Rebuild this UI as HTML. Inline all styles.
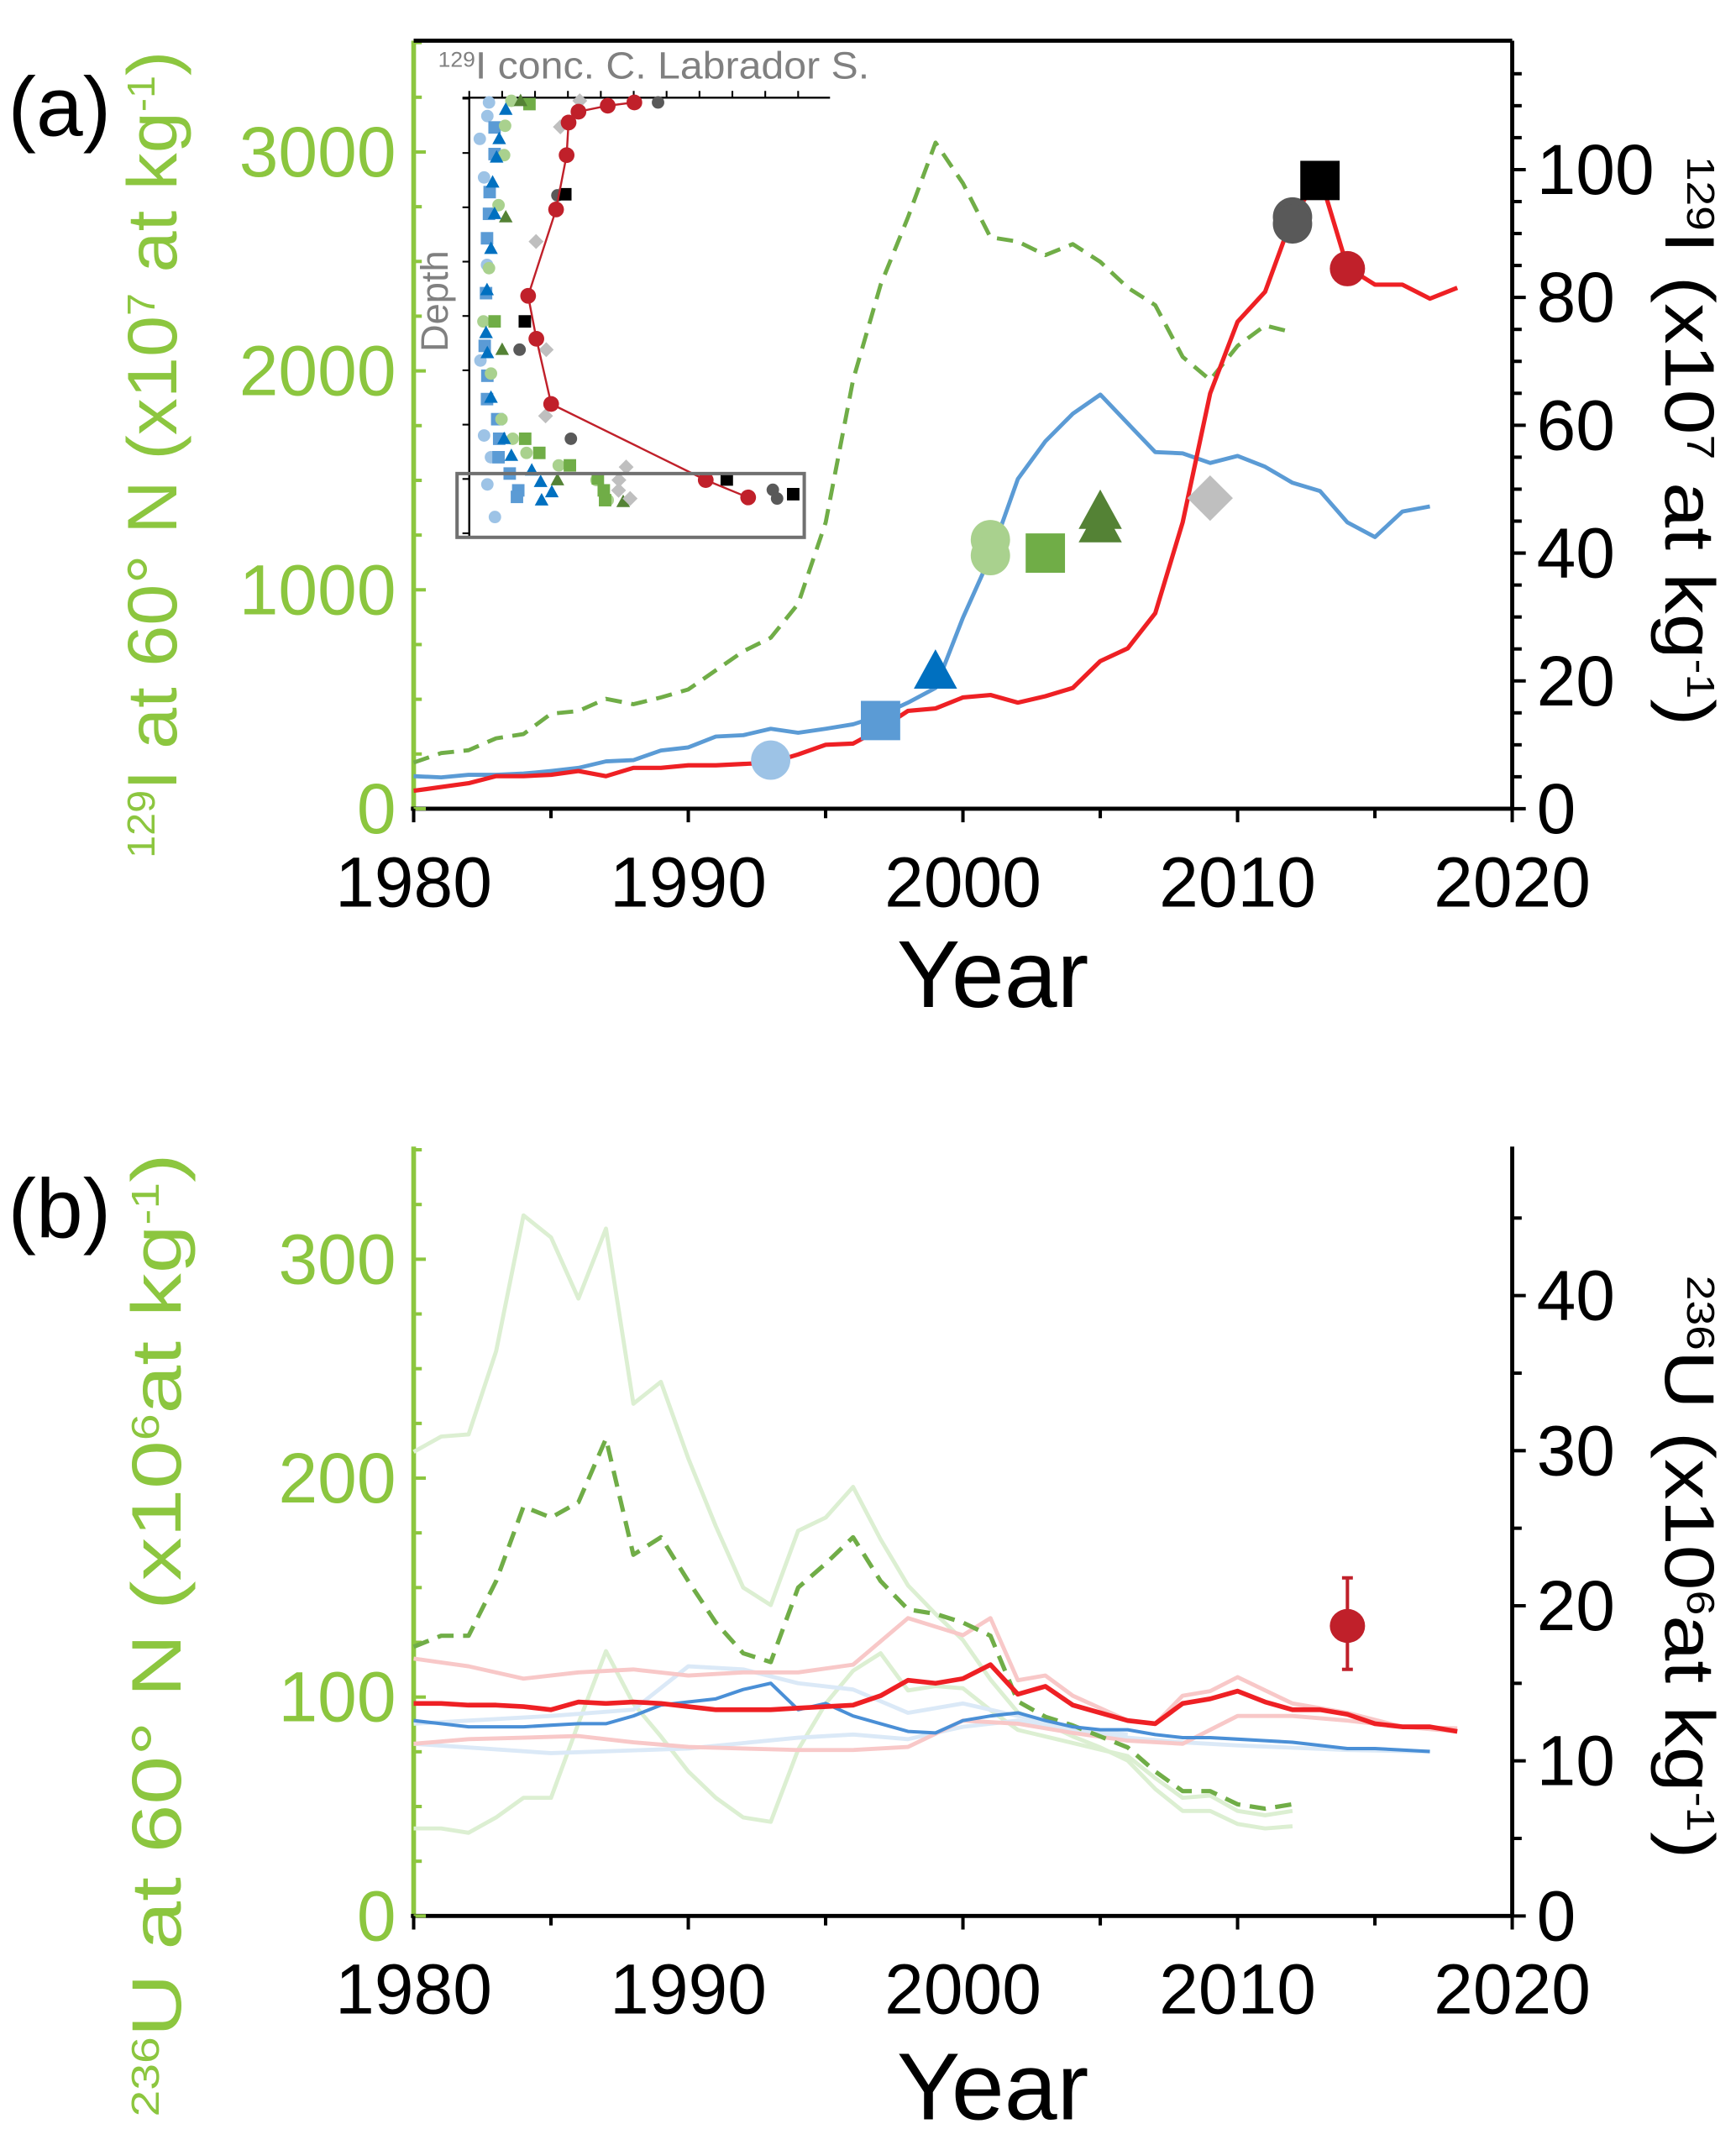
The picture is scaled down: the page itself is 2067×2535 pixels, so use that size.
<!DOCTYPE html>
<html><head><meta charset="utf-8"><style>html,body{margin:0;padding:0;background:#fff}svg{display:block}text{font-family:"Liberation Sans",Arial,sans-serif}</style></head>
<body>
<svg id="chart" xmlns="http://www.w3.org/2000/svg" width="2067" height="2535" viewBox="0 0 1280 1569" preserveAspectRatio="none">
<g id="g"></g>
</svg>
<script>
// ---------- Panel (a) data ----------
const yearsA = [1980,1981,1982,1983,1984,1985,1986,1987,1988,1989,1990,1991,1992,1993,1994,1995,1996,1997,1998,1999,2000,2001,2002,2003,2004,2005,2006,2007,2008,2009,2010,2011,2012,2013,2014,2015,2016,2017,2018];
const greenDashA = [211,254,267,322,341,434,446,502,477,508,545,632,719,781,936,1308,1959,2393,2702,3043,2857,2610,2591,2529,2579,2498,2380,2300,2064,1959,2114,2207,2176];
const blueA = [5.1,4.9,5.3,5.3,5.5,5.9,6.4,7.4,7.6,9.1,9.6,11.3,11.5,12.5,11.9,12.5,13.2,14.6,16.6,18.9,29.9,39.5,51.6,57.5,61.8,64.8,60.3,55.8,55.6,54.1,55.2,53.5,51.0,49.7,44.8,42.5,46.5,47.3];
const redA = [2.8,3.4,4.0,5.1,5.1,5.3,5.9,5.1,6.4,6.4,6.8,6.8,7.0,7.2,8.5,10.0,10.2,12.5,15.3,15.7,17.4,17.8,16.6,17.6,18.9,23.1,25.1,30.6,44.8,65.0,76.2,80.9,92.6,98.9,84.7,82.0,82.0,79.8,81.5];
const markerYearsA = [1993,1997,1999,2001,2001,2003,2005,2005,2009,2012,2012,2013,2014];
const markerValsA = [7.6,13.8,21.4,42.1,39.6,40.0,46.4,44.3,48.6,92.6,91.5,98.3,84.5];
const markerKindsA = ['lbc','bsq','btri','lgc','lgc','gsq','dgt','dgt','dia','dgc','dgc','bk','red'];
const leftTicksA = [0,1000,2000,3000];
const rightTicksA = [0,20,40,60,80,100];
const xTicks = [1980,1990,2000,2010,2020];
// inset data (concentration units 0-10, depth units 0-8)
const insetRedConc = [5.02,4.21,3.32,3.02,2.96,2.64,1.79,2.04,2.49,7.19,8.48];
const insetRedDepth = [0.07,0.13,0.24,0.44,1.04,2.04,3.63,4.42,5.62,7.02,7.34];
const insetLbcConc = [0.60,0.55,0.32,0.45,0.54,0.34,0.45,0.66,0.55,0.78];
const insetLbcDepth = [0.07,0.32,0.74,1.45,3.06,4.82,6.20,6.60,7.10,7.70];
const insetBsqConc = [0.77,0.77,0.62,0.60,0.54,0.51,0.47,0.55,0.54,0.85,0.91,0.89,1.23,1.49,1.45];
const insetBsqDepth = [0.53,1.02,1.72,2.12,2.57,3.58,4.55,5.10,5.53,5.90,6.26,6.60,6.90,7.21,7.33];
const insetBtriConc = [1.11,0.91,0.83,0.71,0.77,0.66,0.54,0.51,0.55,0.66,1.06,1.28,1.90,2.17,2.51,2.20];
const insetBtriDepth = [0.20,0.74,1.08,1.54,2.12,2.76,3.52,4.31,4.68,5.50,6.26,6.57,6.84,7.05,7.24,7.39];
const insetLgcConc = [1.28,1.09,1.06,0.89,0.60,0.43,0.66,0.98,1.32,1.74,2.72,3.87,4.21];
const insetLgcDepth = [0.04,0.50,1.04,1.96,3.12,4.10,5.06,5.90,6.26,6.52,6.75,7.02,7.39];
const insetGsqConc = [1.83,0.77,1.70,2.13,3.06,3.91,4.09,4.13];
const insetGsqDepth = [0.10,4.10,6.26,6.52,6.75,6.99,7.21,7.39];
const insetDgtConc = [1.56,1.11,1.00,2.68,4.68];
const insetDgtDepth = [0.04,2.18,4.62,7.02,7.42];
const insetDiaConc = [3.36,2.77,2.03,2.34,2.32,4.77,4.55,4.54,4.89];
const insetDiaDepth = [0.04,0.52,2.63,4.62,5.84,6.78,7.02,7.21,7.36];
const insetDgcConc = [5.74,2.68,1.53,3.09,9.23,9.36];
const insetDgcDepth = [0.07,1.78,4.62,6.26,7.20,7.36];
const insetBkConc = [2.92,1.69,7.83,9.85];
const insetBkDepth = [1.76,4.10,7.01,7.28];

// ---------- Panel (b) data ----------
const yearsB = [1980,1981,1982,1983,1984,1985,1986,1987,1988,1989,1990,1991,1992,1993,1994,1995,1996,1997,1998,1999,2000,2001,2002,2003,2004,2005,2006,2007,2008,2009,2010,2011,2012,2013,2014,2015,2016,2017,2018];
const paleGreenHigh = [212,219,220,258,320,310,282,314,234,244,209,178,150,142,176,182,196,172,151,138,126,108,93,88,82,77,71,58,48,48,42,40,41];
const paleGreenLow = [40,40,38,45,54,54,88,121,97,82,66,54,45,43,76,97,112,120,103,105,104,94,85,82,79,76,73,63,54,55,48,46,48];
const greenDashB = [123,128,128,153,187,182,189,218,165,173,153,134,120,116,150,161,173,153,140,138,134,128,98,91,87,82,77,66,57,57,51,49,51];
const redB = [13.7,13.7,13.6,13.6,13.5,13.3,13.8,13.7,13.8,13.7,13.5,13.3,13.3,13.3,13.4,13.5,13.6,14.2,15.2,15.0,15.3,16.2,14.3,14.8,13.6,13.1,12.6,12.4,13.7,14.0,14.5,13.8,13.3,13.3,13.0,12.4,12.2,12.2,11.9];
const blueB = [12.6,12.4,12.2,12.2,12.2,12.3,12.4,12.4,12.9,13.6,13.8,14.0,14.6,15.0,13.3,13.7,12.9,12.4,11.9,11.8,12.6,12.9,13.1,12.6,12.2,12.0,12.0,11.7,11.5,11.5,11.4,11.3,11.2,11.0,10.8,10.8,10.7,10.6];
const pinkUpYears = [1980,1982,1984,1986,1988,1990,1992,1994,1996,1998,2000,2001,2002,2003,2004,2006,2007,2008,2009,2010,2012,2014,2016,2018];
const pinkUp = [16.6,16.1,15.3,15.7,15.9,15.5,15.7,15.7,16.2,19.2,18.1,19.2,15.2,15.5,14.2,12.6,12.4,14.2,14.5,15.4,13.7,13.1,12.2,12.1];
const pinkLowYears = [1980,1982,1984,1986,1988,1990,1992,1994,1996,1998,2000,2002,2004,2006,2008,2010,2012,2014,2016,2018];
const pinkLow = [11.1,11.4,11.5,11.6,11.2,10.9,10.8,10.7,10.7,10.9,12.6,12.4,11.8,11.3,11.1,12.9,12.9,12.6,12.2,11.9];
const paleBlueUpYears = [1980,1985,1988,1990,1992,1994,1996,1998,2000,2002,2004,2006];
const paleBlueUp = [12.4,12.9,13.3,16.1,15.9,15.0,14.6,13.1,13.7,12.9,12.1,11.7];
const paleBlueLowYears = [1980,1985,1990,1994,1996,1998,2000,2002,2004,2006,2008,2010,2014,2017];
const paleBlueLow = [11.1,10.5,10.8,11.5,11.7,11.4,12.2,12.6,12.0,11.5,11.2,11.0,10.7,10.6];
const redPointB = [2014, 18.7, 21.8, 15.9];
const leftTicksB = [0,100,200,300];
const rightTicksB = [0,10,20,30,40];

// ---------- scales ----------
const X0=305, X1=1115;
const xS = yr => X0 + (yr-1980)*(X1-X0)/40;
const yLa = v => 596 - v*0.16133;
const yRa = v => 596 - v*4.71;
const yLb = v => 1412 - v*1.6133;
const yRb = v => 1412 - v*11.43;
const inX = c => 346 + c*24.25;
const inY = d => 72.7 + d*40.04;

const NS='http://www.w3.org/2000/svg';
const G=document.getElementById('g');
function mk(tag, attrs, parent){const e=document.createElementNS(NS,tag);for(const k in attrs)e.setAttribute(k,attrs[k]);(parent||G).appendChild(e);return e;}
function line(xs, ys, fx, fy, stroke, w, dash, name){
  const d = ys.map((v,i)=>(i?'L':'M')+fx(xs[i]).toFixed(1)+' '+fy(v).toFixed(1)).join(' ');
  const p = mk('path',{d:d,fill:'none',stroke:stroke,'stroke-width':w,'stroke-linejoin':'round'});
  if(dash) p.setAttribute('stroke-dasharray',dash);
  
  
  return p;
}
const COL={lbc:'#9dc3e6',bsq:'#5b9bd5',btri:'#0070c0',lgc:'#a9d18e',gsq:'#70ad47',dgt:'#548235',dia:'#bfbfbf',dgc:'#595959',bk:'#000000',red:'#c0202a'};
function marker(kind, cx, cy, s, name){
  let e; const c=COL[kind];
  if(kind==='lbc'||kind==='lgc'||kind==='dgc'||kind==='red') e=mk('circle',{cx:cx,cy:cy,r:s,fill:c});
  else if(kind==='bsq'||kind==='gsq'||kind==='bk') e=mk('rect',{x:cx-s,y:cy-s,width:2*s,height:2*s,fill:c});
  else if(kind==='btri'||kind==='dgt') e=mk('polygon',{points:`${cx},${cy-s*1.15} ${cx+s*1.1},${cy+s*0.85} ${cx-s*1.1},${cy+s*0.85}`,fill:c});
  else e=mk('polygon',{points:`${cx},${cy-s*1.2} ${cx+s*1.2},${cy} ${cx},${cy+s*1.2} ${cx-s*1.2},${cy}`,fill:c});
  
  
  return e;
}
function txt(x,y,s,size,fill,anchor,name,extra){
  const t=mk('text',Object.assign({x:x,y:y,'font-size':size,fill:fill,'text-anchor':anchor||'start'},extra||{}));
  t.textContent=s;
  
  
  return t;
}
function richText(x,y,parts,size,fill,rot,len,name){
  const t=mk('text',{x:0,y:0,'font-size':size,fill:fill,'text-anchor':'middle',transform:`translate(${x},${y}) rotate(${rot})`,textLength:len,lengthAdjust:'spacingAndGlyphs'});
  parts.forEach(p=>{const ts=mk('tspan',{},t);ts.textContent=p[0];if(p[1]){ts.setAttribute('font-size',size*0.55);ts.setAttribute('baseline-shift','super');}});
  
  
  return t;
}
const GREEN='#8cc63f';

function axes(top, bottom, fL, fR, lt, rt, lMinor, rMinor, lMax, rMax, pfx){
  const ax=mk('line',{x1:X0,y1:top,x2:X0,y2:bottom,stroke:GREEN,'stroke-width':3.5});
  
  
  const ar=mk('line',{x1:X1,y1:top,x2:X1,y2:bottom,stroke:'#000','stroke-width':3});
  
  
  const ab=mk('line',{x1:X0-2,y1:bottom,x2:X1+1,y2:bottom,stroke:'#000','stroke-width':3});
  
  
  for(let v=0; v<=lMax; v+=lMinor){const y=fL(v); if(y<top) break; mk('line',{x1:X0,y1:y,x2:X0+(lt.includes(v)?9:6),y2:y,stroke:GREEN,'stroke-width':2.5});}
  for(let v=0; v<=rMax; v+=rMinor){const y=fR(v); if(y<top) break; mk('line',{x1:X1,y1:y,x2:X1+(rt.includes(v)?10:7),y2:y,stroke:'#000','stroke-width':2.5});}
  for(let yr=1980; yr<=2020; yr+=5){mk('line',{x1:xS(yr),y1:bottom,x2:xS(yr),y2:bottom+(yr%10===0?10:7),stroke:'#000','stroke-width':2.5});}
  lt.forEach(v=>txt(292,fL(v)+18,String(v),52,GREEN,'end',pfx+'-left-tick-'+v));
  rt.forEach(v=>txt(1133,fR(v)+18,String(v),52,'#000','start',pfx+'-right-tick-'+v));
  xTicks.forEach(v=>txt(xS(v),bottom+72,String(v),52,'#000','middle',pfx+'-x-tick-'+v));
}
axes(30,596,yLa,yRa,leftTicksA,rightTicksA,250,5,3500,115,'a');
const topA=mk('line',{x1:X0,y1:30,x2:X1,y2:30,stroke:'#000','stroke-width':3});


txt(732,742,'Year',70,'#000','middle','a-x-title');
txt(6,100,'(a)',62,'#000','start','panel-a-label');
richText(130,335,[['129',1],['I at 60° N (x10'],['7',1],[' at kg'],['-1',1],[')']],52,GREEN,-90,595,'a-left-axis-title');
richText(1228,325,[['129',1],['I (x10'],['7',1],[' at kg'],['-1',1],[')']],52,'#000',90,420,'a-right-axis-title');

// inset
richText(482,58,[['129',1],['I conc. C. Labrador S.']],28,'#808080',0,318,'inset-title');
txt(330,222,'Depth',28,'#808080','middle','inset-depth-label',{transform:'rotate(-90 330 222)'});
const inAxL=mk('line',{x1:346,y1:72,x2:346,y2:395,stroke:'#000','stroke-width':1.5});


const inAxT=mk('line',{x1:341,y1:72,x2:612,y2:72,stroke:'#000','stroke-width':1.5});


for(let c=0;c<=10;c++) mk('line',{x1:inX(c),y1:72,x2:inX(c),y2:67,stroke:'#000','stroke-width':1.3});
for(let d=0;d<=8;d++) mk('line',{x1:341,y1:inY(d),x2:346,y2:inY(d),stroke:'#000','stroke-width':1.3});
const insetSets=[['lbc',insetLbcConc,insetLbcDepth],['bsq',insetBsqConc,insetBsqDepth],['lgc',insetLgcConc,insetLgcDepth],['gsq',insetGsqConc,insetGsqDepth],['btri',insetBtriConc,insetBtriDepth],['dgt',insetDgtConc,insetDgtDepth],['dia',insetDiaConc,insetDiaDepth],['dgc',insetDgcConc,insetDgcDepth],['bk',insetBkConc,insetBkDepth]];
insetSets.forEach(s=>s[1].forEach((c,i)=>marker(s[0],inX(c),inY(s[2][i]),4.6,'inset-'+s[0]+'-point')));
line(insetRedConc,insetRedDepth,inX,inY,'#c0202a',1.5,null,'inset-red-profile');
insetRedConc.forEach((c,i)=>marker('red',inX(c),inY(insetRedDepth[i]),5.8,'inset-red-point'));
const box=mk('rect',{x:337,y:349,width:256,height:47,fill:'none',stroke:'#707070','stroke-width':2.5});



// series a
line(yearsA.slice(0,greenDashA.length),greenDashA,xS,yLa,'#70ad47',3,'12 7','a-green-dashed-series');
line(yearsA.slice(0,blueA.length),blueA,xS,yRa,'#5b9bd5',3,null,'a-blue-series');
line(yearsA,redA,xS,yRa,'#ee2024',3.2,null,'a-red-series');
markerKindsA.forEach((k,i)=>marker(k,xS(markerYearsA[i]),yRa(markerValsA[i]),k==='red'?13:(k==='dia'?14:14.5),'a-marker-'+k));

// ---------- panel b ----------
axes(845,1412,yLb,yRb,leftTicksB,rightTicksB,25,5,350,49,'b');
txt(732,1562,'Year',70,'#000','middle','b-x-title');
txt(6,912,'(b)',62,'#000','start','panel-b-label');
richText(133,1205,[['236',1],['U at 60° N (x10'],['6',1],['at kg'],['-1',1],[')']],52,GREEN,-90,710,'b-left-axis-title');
richText(1228,1155,[['236',1],['U (x10'],['6',1],['at kg'],['-1',1],[')']],52,'#000',90,430,'b-right-axis-title');
line(yearsB.slice(0,paleGreenHigh.length),paleGreenHigh,xS,yLb,'#dcefd2',3,null,'b-pale-green-high');
line(yearsB.slice(0,paleGreenLow.length),paleGreenLow,xS,yLb,'#dcefd2',3,null,'b-pale-green-low');
line(paleBlueUpYears,paleBlueUp,xS,yRb,'#dbe9f7',3,null,'b-pale-blue-upper');
line(paleBlueLowYears,paleBlueLow,xS,yRb,'#dbe9f7',3,null,'b-pale-blue-lower');
line(pinkUpYears,pinkUp,xS,yRb,'#f8c8c8',3,null,'b-pale-red-upper');
line(pinkLowYears,pinkLow,xS,yRb,'#f8c8c8',3,null,'b-pale-red-lower');
line(yearsB.slice(0,greenDashB.length),greenDashB,xS,yLb,'#70ad47',3.2,'12 7','b-green-dashed-series');
line(yearsB.slice(0,blueB.length),blueB,xS,yRb,'#4a8fd6',2.5,null,'b-blue-series');
line(yearsB,redB,xS,yRb,'#ee2024',3.5,null,'b-red-series');
const eb=mk('line',{x1:xS(redPointB[0]),y1:yRb(redPointB[2]),x2:xS(redPointB[0]),y2:yRb(redPointB[3]),stroke:'#c0202a','stroke-width':2.5});


[redPointB[2],redPointB[3]].forEach(v=>mk('line',{x1:xS(redPointB[0])-4,y1:yRb(v),x2:xS(redPointB[0])+4,y2:yRb(v),stroke:'#c0202a','stroke-width':2.5}));
const rp=mk('ellipse',{cx:xS(redPointB[0]),cy:yRb(redPointB[1]),rx:13,ry:12.5,fill:'#c0202a'});


</script>
</body></html>
